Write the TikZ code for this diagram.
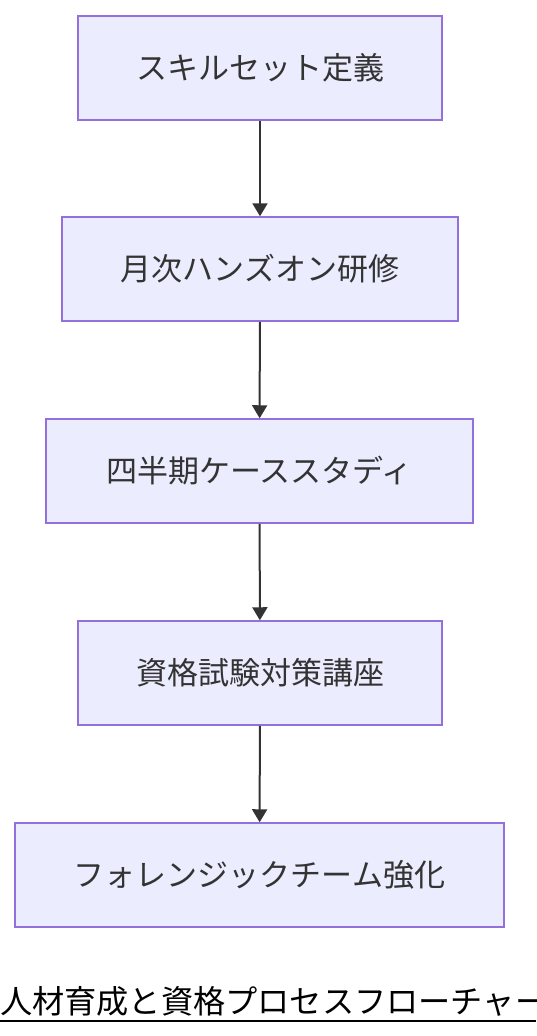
\documentclass[tikz,border=0pt]{standalone}
\usepackage{fontspec}
\setmainfont{Noto Sans CJK JP}
\newfontfamily\titlefont{Noto Sans CJK JP}
\usetikzlibrary{arrows.meta}
\definecolor{boxfill}{HTML}{ECECFF}
\definecolor{boxline}{HTML}{9370DB}
\definecolor{txt}{HTML}{333333}
\tikzset{
  stepbox/.style={draw=boxline, fill=boxfill, line width=1.5pt, minimum height=104pt, inner sep=0pt, text=txt, font=\fontsize{31}{36}\selectfont},
  flow/.style={draw=txt, line width=2pt, -{Triangle[length=13pt,width=15pt]}}
}
\begin{document}
\begin{tikzpicture}[x=1pt,y=-1pt]
\useasboundingbox (0,0) rectangle (536,1036);
\node[stepbox, minimum width=364pt] (n1) at (260,68) {スキルセット定義};
\node[stepbox, minimum width=396pt] (n2) at (260,269) {月次ハンズオン研修};
\node[stepbox, minimum width=427pt] (n3) at (259.5,471) {四半期ケーススタディ};
\node[stepbox, minimum width=364pt] (n4) at (260,673) {資格試験対策講座};
\node[stepbox, minimum width=489pt] (n5) at (259.5,875) {フォレンジックチーム強化};
\draw[flow] (n1) -- (n2);
\draw[flow] (n2) -- (n3);
\draw[flow] (n3) -- (n4);
\draw[flow] (n4) -- (n5);
\node[anchor=base west, inner sep=0pt, font=\titlefont\fontsize{32.2}{37}\selectfont] (title) at (0,1013) {人材育成と資格プロセスフローチャー};
\draw[line width=2pt] (0,1021) -- (536,1021);
\end{tikzpicture}
\end{document}
